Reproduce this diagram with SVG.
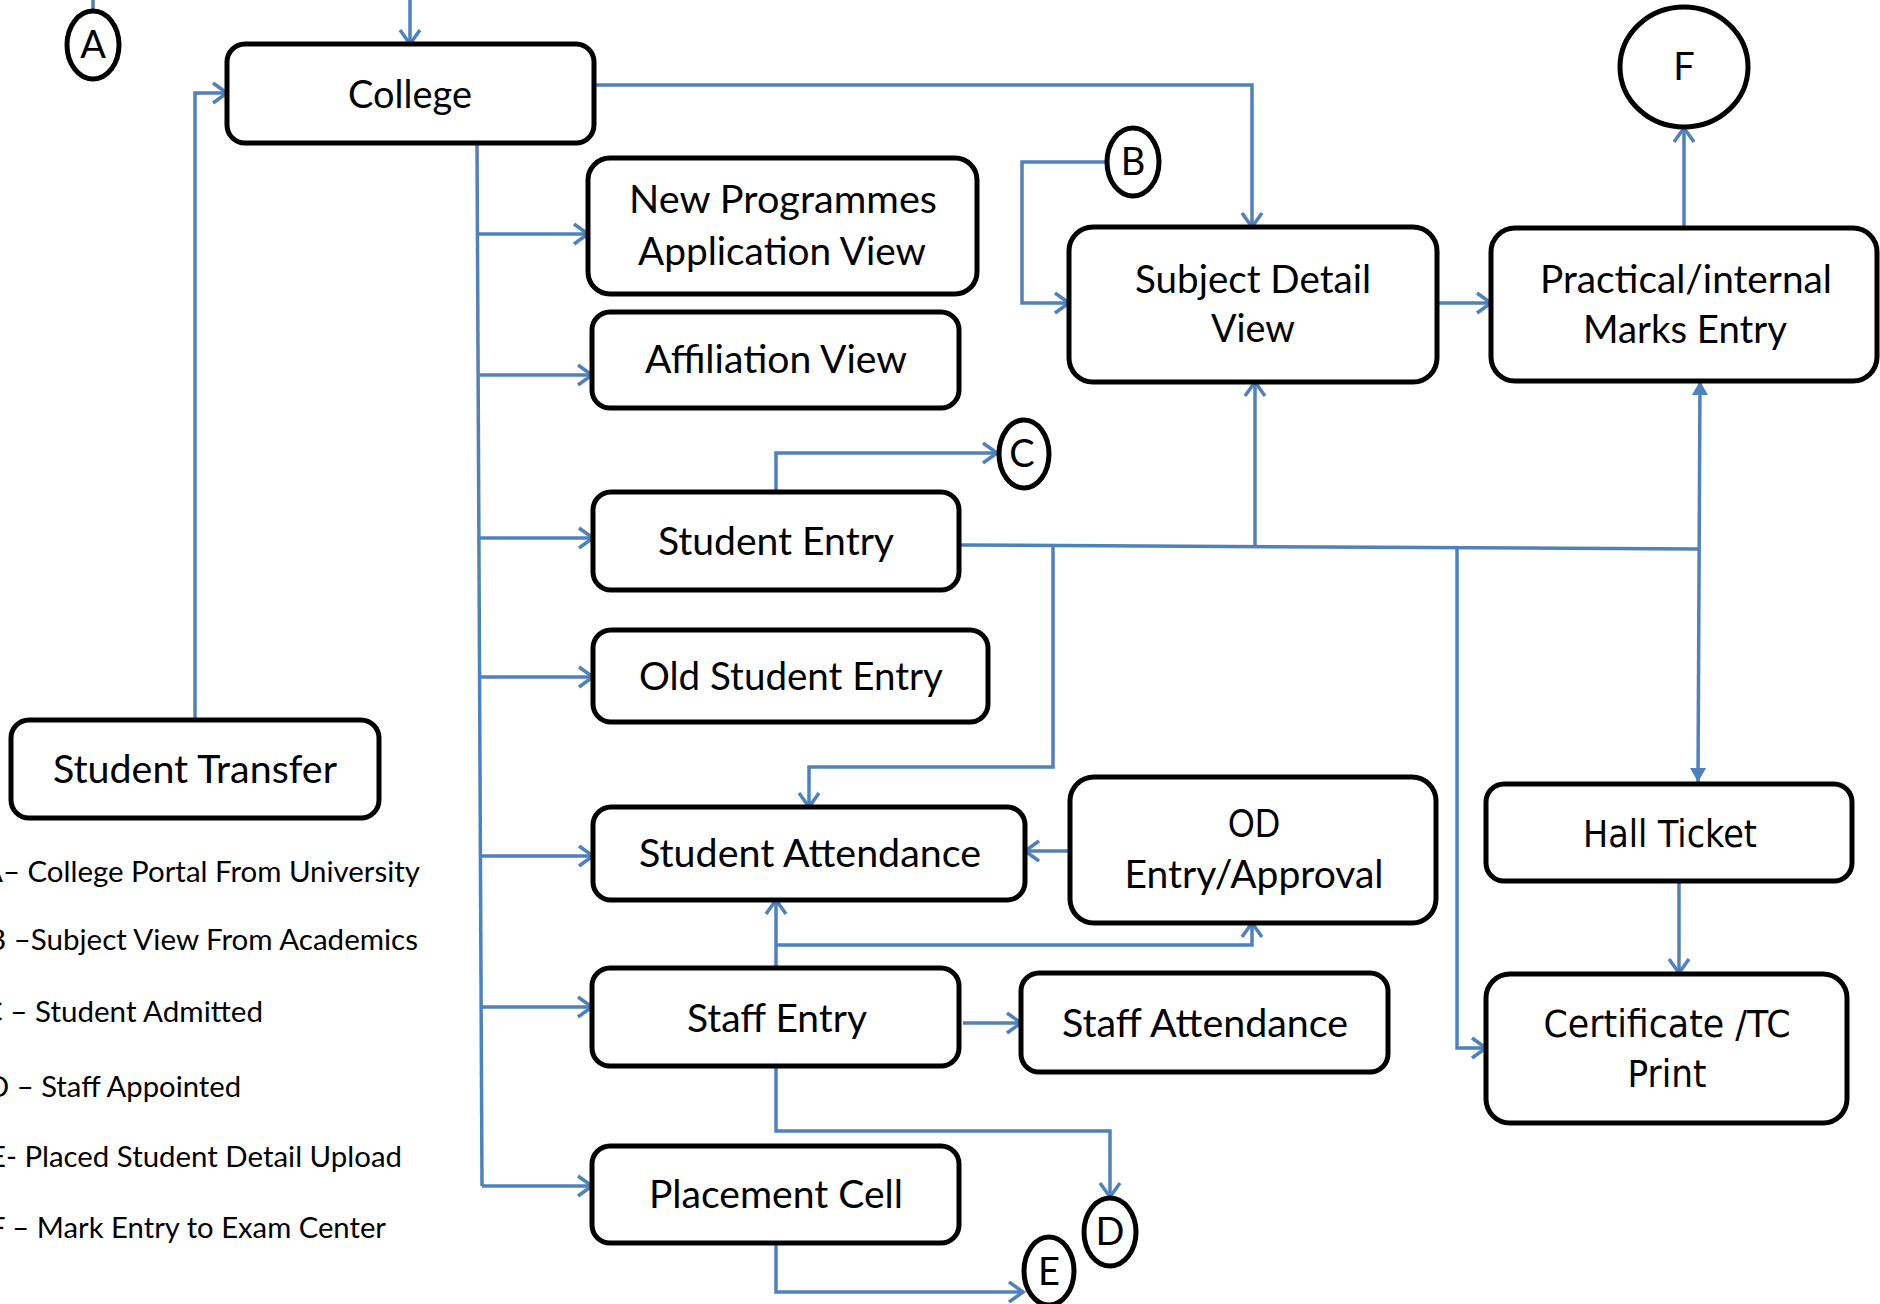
<svg xmlns="http://www.w3.org/2000/svg" width="1880" height="1304" viewBox="0 0 1880 1304">
<style>
.box{fill:#fff;stroke:#000;stroke-width:5}
.circ{fill:#fff;stroke:#000;stroke-width:5}
.t{font-family:Lato,"Liberation Sans",sans-serif;font-size:38px;fill:#000;text-anchor:middle}
.v{font-family:"DejaVu Sans","Liberation Sans",sans-serif;font-size:37px;fill:#000;text-anchor:middle}
.lg{font-family:Lato,"Liberation Sans",sans-serif;font-size:29px;fill:#000;text-anchor:end}
.c{fill:none;stroke:#4F81BD;stroke-width:3.5}
.a{marker-end:url(#arr)}
</style>
<defs>
<marker id="arr" viewBox="-18 -12 20 24" refX="0" refY="0" markerWidth="20" markerHeight="24" markerUnits="userSpaceOnUse" orient="auto" overflow="visible">
<path d="M-14,-10 L0,0 L-14,10" fill="none" stroke="#4F81BD" stroke-width="3.5"/>
</marker>
<marker id="tri" viewBox="-16 -10 18 20" refX="0" refY="0" markerWidth="18" markerHeight="20" markerUnits="userSpaceOnUse" orient="auto-start-reverse" overflow="visible">
<path d="M-14,-8 L0,0 L-14,8 Z" fill="#4F81BD"/>
</marker>
</defs>
<rect width="1880" height="1304" fill="#fff"/>
<g id="connectors">
<path class="c" d="M93,0 V11"/>
<path class="c a" d="M410,0 V44"/>
<path class="c a" d="M195,720 V93 H227"/>
<path class="c a" d="M594,85 H1252 V227"/>
<path class="c" d="M477,143 L482,1186"/>
<path class="c a" d="M479,234 H588"/>
<path class="c a" d="M480,375 H592"/>
<path class="c a" d="M480,538 H593"/>
<path class="c a" d="M481,677 H593"/>
<path class="c a" d="M481,856 H593"/>
<path class="c a" d="M482,1007 H592"/>
<path class="c a" d="M482,1186 H592"/>
<path class="c a" d="M1107,162 H1022 V303 H1069"/>
<path class="c a" d="M1437,303 H1491"/>
<path class="c a" d="M1684,228 V128"/>
<path class="c a" d="M776,492 V453 H997"/>
<path class="c" d="M959,545 L1698,549"/>
<path class="c a" d="M1255,545 V382"/>
<path class="c a" d="M1053,547 V767 H809 V807"/>
<path class="c a" d="M1457,548 V1048 H1486"/>
<path class="c" d="M1700,381 L1698,782" marker-start="url(#tri)" marker-end="url(#tri)"/>
<path class="c a" d="M1070,851 H1025"/>
<path class="c a" d="M776,968 V900"/>
<path class="c a" d="M776,945 H1252 V923"/>
<path class="c a" d="M963,1023 H1021"/>
<path class="c a" d="M776,1066 V1131 H1110 V1197"/>
<path class="c a" d="M776,1243 V1292 H1023"/>
<path class="c a" d="M1679,881 V973"/>
</g>
<g id="node-A"><ellipse class="circ" cx="93" cy="45" rx="26" ry="34"/><text class="t" x="93" y="58">A</text></g>
<g id="node-college"><rect class="box" x="227" y="44" width="367" height="99" rx="18"/><text class="t" x="410" y="108" textLength="124" lengthAdjust="spacingAndGlyphs">College</text></g>
<g id="node-newprog"><rect class="box" x="588" y="158" width="389" height="136" rx="22"/><text class="t" x="783" y="213" textLength="308" lengthAdjust="spacingAndGlyphs">New Programmes</text><text class="t" x="782" y="265" textLength="288" lengthAdjust="spacingAndGlyphs">Application View</text></g>
<g id="node-affiliation"><rect class="box" x="592" y="312" width="367" height="96" rx="18"/><text class="t" x="776" y="373" textLength="262" lengthAdjust="spacingAndGlyphs">Affiliation View</text></g>
<g id="node-B"><ellipse class="circ" cx="1133" cy="162" rx="26" ry="34"/><text class="t" x="1133" y="175">B</text></g>
<g id="node-subject"><rect class="box" x="1069" y="227" width="368" height="155" rx="24"/><text class="t" x="1253" y="293" textLength="236" lengthAdjust="spacingAndGlyphs">Subject Detail</text><text class="t" x="1253" y="342" textLength="84" lengthAdjust="spacingAndGlyphs">View</text></g>
<g id="node-F"><ellipse class="circ" cx="1684" cy="67" rx="64" ry="60"/><text class="t" x="1684" y="80">F</text></g>
<g id="node-practical"><rect class="box" x="1491" y="228" width="386" height="153" rx="24"/><text class="t" x="1686" y="293" textLength="292" lengthAdjust="spacingAndGlyphs">Practical/internal</text><text class="t" x="1685" y="343" textLength="204" lengthAdjust="spacingAndGlyphs">Marks Entry</text></g>
<g id="node-C"><ellipse class="circ" cx="1024" cy="454" rx="25" ry="34"/><text class="t" x="1022" y="467">C</text></g>
<g id="node-studententry"><rect class="box" x="593" y="492" width="366" height="98" rx="18"/><text class="t" x="776" y="555" textLength="236" lengthAdjust="spacingAndGlyphs">Student Entry</text></g>
<g id="node-oldstudent"><rect class="box" x="593" y="630" width="395" height="92" rx="18"/><text class="t" x="791" y="690" textLength="304" lengthAdjust="spacingAndGlyphs">Old Student Entry</text></g>
<g id="node-transfer"><rect class="box" x="11" y="720" width="368" height="98" rx="18"/><text class="t" x="195" y="783" textLength="284" lengthAdjust="spacingAndGlyphs">Student Transfer</text></g>
<g id="node-attendance"><rect class="box" x="593" y="807" width="432" height="93" rx="18"/><text class="t" x="810" y="867" textLength="342" lengthAdjust="spacingAndGlyphs">Student Attendance</text></g>
<g id="node-od"><rect class="box" x="1070" y="777" width="366" height="146" rx="24"/><text class="t" x="1254" y="837" textLength="52" lengthAdjust="spacingAndGlyphs">OD</text><text class="t" x="1254" y="888" textLength="259" lengthAdjust="spacingAndGlyphs">Entry/Approval</text></g>
<g id="node-hallticket"><rect class="box" x="1486" y="784" width="366" height="97" rx="18"/><text class="v" x="1670" y="847" textLength="174" lengthAdjust="spacingAndGlyphs">Hall Ticket</text></g>
<g id="node-staffentry"><rect class="box" x="592" y="968" width="367" height="98" rx="18"/><text class="t" x="777" y="1032" textLength="180" lengthAdjust="spacingAndGlyphs">Staff Entry</text></g>
<g id="node-staffattendance"><rect class="box" x="1021" y="973" width="367" height="99" rx="18"/><text class="t" x="1205" y="1037" textLength="286" lengthAdjust="spacingAndGlyphs">Staff Attendance</text></g>
<g id="node-certificate"><rect class="box" x="1486" y="974" width="361" height="149" rx="24"/><text class="v" x="1667" y="1037" textLength="247" lengthAdjust="spacingAndGlyphs">Certificate /TC</text><text class="v" x="1667" y="1087" textLength="79" lengthAdjust="spacingAndGlyphs">Print</text></g>
<g id="node-placement"><rect class="box" x="592" y="1146" width="367" height="97" rx="18"/><text class="t" x="776" y="1208" textLength="254" lengthAdjust="spacingAndGlyphs">Placement Cell</text></g>
<g id="node-D"><ellipse class="circ" cx="1110" cy="1232" rx="26" ry="34"/><text class="t" x="1110" y="1245">D</text></g>
<g id="node-E"><ellipse class="circ" cx="1049" cy="1271" rx="25" ry="34"/><text class="t" x="1049" y="1285">E</text></g>
<g id="legend">
<text class="lg" x="420" y="882" textLength="437" lengthAdjust="spacingAndGlyphs">A– College Portal From University</text>
<text class="lg" x="418" y="950" textLength="431" lengthAdjust="spacingAndGlyphs">B –Subject View From Academics</text>
<text class="lg" x="263" y="1022" textLength="280" lengthAdjust="spacingAndGlyphs">C – Student Admitted</text>
<text class="lg" x="241" y="1097" textLength="254" lengthAdjust="spacingAndGlyphs">D – Staff Appointed</text>
<text class="lg" x="402" y="1167" textLength="413" lengthAdjust="spacingAndGlyphs">E- Placed Student Detail Upload</text>
<text class="lg" x="386" y="1238" textLength="397" lengthAdjust="spacingAndGlyphs">F – Mark Entry to Exam Center</text>
</g>
</svg>
